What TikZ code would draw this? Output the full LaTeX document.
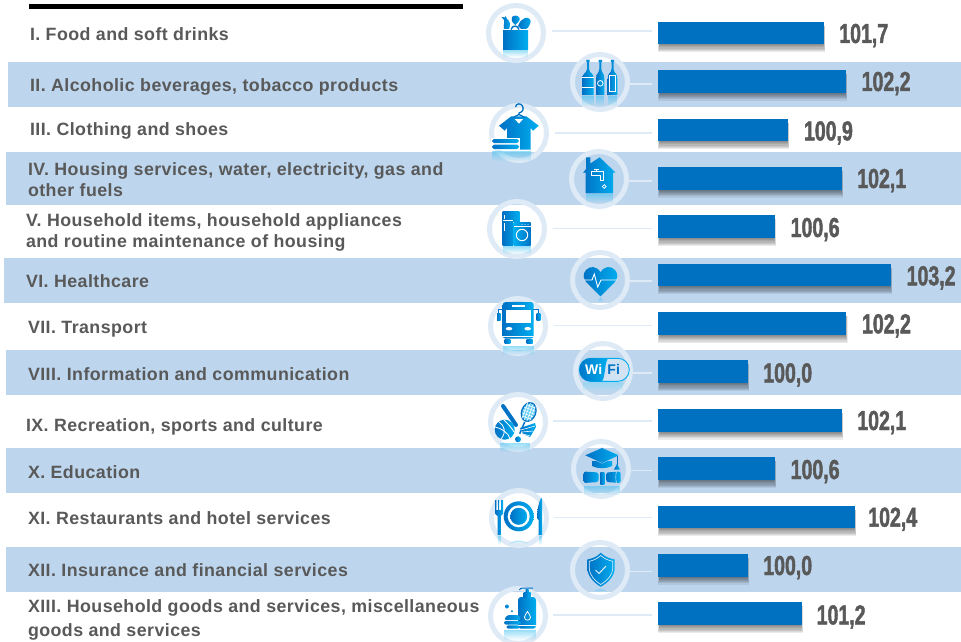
\documentclass[tikz,border=0pt]{standalone}
\usepackage{fontspec}
\usetikzlibrary{fadings,calc}
\setmainfont{Liberation Sans}
\newfontfamily\lblfont[UprightFont=* Bold,LetterSpace=2.5]{Liberation Sans}
\newfontfamily\valfont[UprightFont=* Bold,FakeStretch=0.71,FakeBold=1.5]{Liberation Sans}
\newfontfamily\icofont[UprightFont=* Bold]{Liberation Sans}
\definecolor{bandc}{HTML}{BDD6EE}
\definecolor{ringc}{HTML}{DEEAF6}
\definecolor{barc}{HTML}{0070C0}
\definecolor{txtc}{HTML}{595959}
\definecolor{iconA}{HTML}{0071C5}
\definecolor{iconB}{HTML}{00AEEF}
\tikzset{
  band/.style={fill=bandc,draw=none},
  ringnode/.style={circle,draw=ringc,line width=5pt,minimum size=55pt,inner sep=0pt,fill=none},
  leader/.style={draw=ringc,line width=1.1pt},
  barnode/.style={rectangle,fill=barc,draw=none,inner sep=0pt,outer sep=0pt,anchor=north west},
  lbl/.style={anchor=base west,inner sep=0pt,outer sep=0pt,text=txtc,align=left,font=\lblfont\fontsize{17.8}{21.7}\selectfont},
  val/.style={anchor=base west,inner sep=0pt,outer sep=0pt,text=txtc,font=\valfont\fontsize{27.5}{30}\selectfont},
  ic/.style={left color=iconA,right color=iconB,draw=none},
  icr/.style={left color=iconB,right color=iconA,draw=none},
  refl/.style={fill=iconB!80!white,opacity=.5,draw=none,path fading=south},
  cut/.style={draw=white,line width=.8pt,fill=none},
  icotext/.style={inner sep=0pt,outer sep=0pt,font=\icofont\fontsize{14}{14}\selectfont},
}
% id, top, bottom, right, value x, value baseline, value
\newcommand\rowbar[7]{%
  \foreach \k in {1,...,7}{\fill[black,opacity=.08] (660-\k*.3,#2+4) rectangle (#4-1+\k*.35,#3+\k*1.15);}
  \node[barnode,minimum width=#4-658,minimum height=#3-#2] (bar#1) at (658,#2) {};
  \node[val] (val#1) at (#5,#6) {#7};
}
% id, icon x, icon y
\newcommand\ringat[3]{\node[ringnode] (ic#1) at (#2,#3) {};}
% id, offset of the line above the icon centre, gap next to the ring
\newcommand\leadline[3]{\draw[leader,shorten <=#3pt,shorten >=6pt] ([yshift=#2pt]ic#1.east) -- ([yshift=#2pt]ic#1.east -| bar#1.west);}
\newcommand\bottle[2]{%
  \path[ic] (#1-1.7,-22) -- (#1+1.7,-22) -- (#1+1.7,-20) -- (#1+1,-20) -- (#1+1,-13) .. controls (#1+1.5,-8) and (#1+#2,-10) .. (#1+#2,-3) -- (#1+#2,13) -- (#1-#2,13) -- (#1-#2,-3) .. controls (#1-#2,-10) and (#1-1.5,-8) .. (#1-1,-13) -- (#1-1,-20) -- (#1-1.7,-20) -- cycle;
  \fill[refl] (#1-#2,14) rectangle (#1+#2,24);
}
\begin{document}
\begin{tikzpicture}[x=1pt,y=-1pt]
\useasboundingbox (0,0) rectangle (961,642);
\fill[white] (0,0) rectangle (961,642);
% bands
\fill[band] (8,62) rectangle (961,107);
\fill[band] (6,152) rectangle (961,205);
\fill[band] (4,258) rectangle (961,303);
\fill[band] (6,350) rectangle (961,395);
\fill[band] (6,448) rectangle (961,493);
\fill[band] (6,547) rectangle (961,592);
% top rule
\fill[black] (29,4.3) rectangle (463,9);
% labels
\node[lbl] (lab1) at (30,40.7) {I. Food and soft drinks};
\node[lbl] (lab2) at (30,91.7) {II. Alcoholic beverages, tobacco products};
\node[lbl] (lab3) at (30,135.7) {III. Clothing and shoes};
\node[lbl] (lab4) at (28,196.7) {IV. Housing services, water, electricity, gas and\\other fuels};
\node[lbl] (lab5) at (26,247.7) {V. Household items, household appliances\\and routine maintenance of housing};
\node[lbl] (lab6) at (26,287.3) {VI. Healthcare};
\node[lbl] (lab7) at (28,333.3) {VII. Transport};
\node[lbl] (lab8) at (28,380) {VIII. Information and communication};
\node[lbl] (lab9) at (26,431) {IX. Recreation, sports and culture};
\node[lbl] (lab10) at (28,478.3) {X. Education};
\node[lbl] (lab11) at (28,524) {XI. Restaurants and hotel services};
\node[lbl] (lab12) at (28,576.7) {XII. Insurance and financial services};
\node[lbl] (lab13) at (28,636) {XIII. Household goods and services, miscellaneous\\[1.6pt]goods and services};
% bars and values
\rowbar{1}{22}{44}{824}{839.3}{43}{101,7}
\rowbar{2}{70}{92.5}{846}{861.7}{91}{102,2}
\rowbar{3}{118.5}{141}{788}{804}{140.4}{100,9}
\rowbar{4}{166.7}{189.5}{842}{857.3}{188}{102,1}
\rowbar{5}{215.3}{238}{774.7}{790.7}{237}{100,6}
\rowbar{6}{263.7}{286}{891}{906.7}{285.3}{103,2}
\rowbar{7}{312}{334.7}{846.3}{862}{333.3}{102,2}
\rowbar{8}{360}{383}{748}{763.3}{382.4}{100,0}
\rowbar{9}{408.7}{431.5}{842}{857.3}{430}{102,1}
\rowbar{10}{457.3}{480}{775}{790.7}{479}{100,6}
\rowbar{11}{505.7}{528}{855}{868.3}{526.7}{102,4}
\rowbar{12}{554}{576.5}{748}{763.3}{575}{100,0}
\rowbar{13}{602.3}{625}{801.7}{816.7}{624.4}{101,2}
% rings
\ringat{1}{516}{33}\ringat{2}{600}{82}\ringat{3}{519}{133}\ringat{4}{599}{179}
\ringat{5}{517}{229}\ringat{6}{600}{280}\ringat{7}{518}{326}\ringat{8}{603}{371}
\ringat{9}{518}{422}\ringat{10}{601}{469}\ringat{11}{519}{518}\ringat{12}{600}{570}\ringat{13}{518}{616}
% leaders
\leadline{1}{2}{6}\leadline{2}{-2}{0}\leadline{3}{0}{6}\leadline{4}{-2}{0}
\leadline{5}{.5}{6}\leadline{6}{-1}{0}\leadline{7}{.5}{6}\leadline{8}{-2}{0}
\leadline{9}{1}{5}\leadline{10}{-1.7}{0}\leadline{11}{.3}{5}\leadline{12}{-1.5}{0}\leadline{13}{1}{5}
% icon 1: food basket
\begin{scope}[shift={(ic1.center)}]
\path[ic] (-13,-2.3) rectangle (12,16.7);
\fill[refl] (-13,17) rectangle (12,24);
\path[ic] (-14.5,-16) -- (-11,-15.5) -- (-10.5,-17) -- (-9,-14) .. controls (-6,-12) and (-5,-8) .. (-7,-4) -- (-12,-4) .. controls (-13,-8) and (-11,-11) .. (-12,-13) -- cycle;
\path[ic] (-4,-16) .. controls (-2,-18) and (2,-18) .. (3.5,-15) .. controls (4.5,-12) and (1,-10) .. (-0.5,-8) .. controls (-3,-9) and (-5,-12) .. (-4,-16) -- cycle;
\path[ic] (2,-7) .. controls (4,-12) and (6,-14) .. (9,-15) .. controls (13,-16) and (16,-13) .. (14,-9) .. controls (13,-6) and (11,-4) .. (10,-4) -- (5,-4) -- cycle;
\draw[iconA,line width=1.4pt] (-5,-3.5) .. controls (-4,-8) and (2,-8) .. (3,-3.5);
\end{scope}
% icon 2: bottles
\begin{scope}[shift={(ic2.center)}]
\bottle{-12}{5.6}\bottle{0.3}{4}\bottle{12.5}{4.8}
\draw[cut] (-18,-4.5) -- (-6,-4.5) (-18,5.5) -- (-6,5.5);
\draw[cut] (0.3,1.3) circle (2.8);
\draw[cut] (9.5,-7) rectangle (15.5,9.5);
\end{scope}
% icon 3: shirt
\begin{scope}[shift={(ic3.center)}]
\path[ic] (-7.7,-16.7) -- (7.3,-16.7) -- (19.7,-7.3) -- (14,-2.3) -- (11.7,-5) -- (11.7,16.7) -- (-12,16.7) -- (-12,-5) -- (-14.3,-2.3) -- (-20,-7.3) -- cycle;
\fill[white] (-4.3,-14) -- (4,-14) -- (0,-9.3) -- cycle;
\draw[iconA,line width=1.3pt] (-6,-15.5) -- (0,-18.5) -- (6,-15.5) (0,-18.5) -- (0,-20) .. controls (4,-21) and (5,-24) .. (3.5,-27) .. controls (2,-30) and (-3,-30) .. (-3.5,-26);
\fill[white] (-28,4.5) rectangle (1,17);
\path[ic,rounded corners=1.8pt] (-27,6) rectangle (0,10);
\path[ic,rounded corners=1.8pt] (-27,11.7) rectangle (0,16);
\fill[refl] (-27,18) rectangle (12,28);
\end{scope}
% icon 4: house
\begin{scope}[shift={(ic4.center)}]
\path[ic] (-13,-21.7) -- (-8.7,-21.7) -- (-8.7,-15.5) -- (0.7,-21.7) -- (16.7,-6.3) -- (14,-6.3) -- (14,14.3) -- (-13.3,14.3) -- (-13.3,-6.3) -- (-16,-6.3) -- (-13,-10) -- cycle;
\draw[white,line width=.7pt,line join=round] (-8,-7.5) -- (4.5,-7.5) -- (4.5,1) -- (1,1) -- (1,-3.5) -- (-8,-3.5) -- cycle (-2.5,-7.5) -- (-2.5,-10) (-5,-10) -- (0,-10);
\draw[white,line width=.7pt] (5.3,7.5) circle (1.9);
\fill[refl] (-13.3,15) rectangle (14,24);
\end{scope}
% icon 5: fridge and washer
\begin{scope}[shift={(ic5.center)}]
\path[ic] (-14.3,-17.3) rectangle (2.3,16);
\draw[cut] (-14.3,-8.5) -- (-4,-8.5) (-12.3,-14) -- (-12.3,-10.5) (-12.3,-6) -- (-12.3,2);
\draw[white,line width=.9pt,fill=iconA] (-3.8,-6.7) rectangle (13.9,16.2);
\path[icr] (-3.3,-6.3) rectangle (13.7,16);
\draw[cut] (-3.3,-3) -- (13.7,-3);
\draw[white,line width=1pt] (5,6) circle (5.7);
\fill[white] (5,-4.7) circle (.5) (8,-4.7) circle (.5) (11,-4.7) circle (.5);
\fill[refl] (-14.3,17) rectangle (13.7,25);
\end{scope}
% icon 6: heart
\begin{scope}[shift={(ic6.center)}]
\path[ic] (0.5,-7.7) .. controls (-3,-14) and (-10,-14.5) .. (-14,-10) .. controls (-17.5,-6) and (-17,-1) .. (-13,3) -- (0.5,16.3) -- (14,3) .. controls (18,-1) and (18.5,-6) .. (15,-10) .. controls (11,-14.5) and (4,-14) .. (0.5,-7.7) -- cycle;
\draw[white,line width=.9pt,line join=miter] (-16.3,0) -- (-8,0) -- (-5.7,-6) -- (-2.3,7) -- (1,0) -- (17.3,0);
\fill[refl] (-3,22) -- (0.5,17.5) -- (4,22) -- cycle;
\end{scope}
% icon 7: bus
\begin{scope}[shift={(ic7.center)}]
\path[ic,rounded corners=3pt] (-15.3,-24) rectangle (15.7,12.7);
\fill[white] (-12.3,-15.7) rectangle (13.3,-3);
\fill[white] (-6,-21.3) rectangle (7.3,-18.7);
\fill[white] (-9,2.7) ellipse (3.3 and 1.7) (9.7,2.7) ellipse (3.3 and 1.7);
\draw[cut] (-15.3,10) -- (15.7,10);
\path[ic] (-21,-13) rectangle (-17.3,-5.7);
\path[ic] (18.5,-13) rectangle (22.3,-5.7);
\draw[iconA,line width=.8pt] (-19.2,-13) -- (-19.2,-16.5) -- (-15,-16.5) (20.4,-13) -- (20.4,-16.5) -- (15,-16.5);
\path[ic] (-13.3,13.7) rectangle (-7.7,17.7);
\path[ic] (8.5,13.7) rectangle (14.5,17.7);
\fill[refl] (-15.3,20) rectangle (15.7,29);
\end{scope}
% icon 8: wifi
\begin{scope}[shift={(ic8.center)}]
\fill[iconB!50!white,opacity=.6,path fading=south] (-20,10.5) rectangle (20,20);
\draw[iconB,fill=bandc!70!white,line width=.9pt,rounded corners=11.4pt] (-23.7,-12.7) rectangle (26.3,10.3);
\path[ic] (-12,-12.9) -- (5,-12.9) .. controls (1,-6) and (3,4) .. (-1,10.5) -- (-12,10.5) .. controls (-27.5,10.5) and (-27.5,-12.9) .. (-12,-12.9) -- cycle;
\node[icotext,text=white] (wi8) at (-9.3,-1.3) {Wi};
\node[icotext,text=iconA] (fi8) at (10.7,-1.3) {Fi};
\end{scope}
% icon 9: sports
\begin{scope}[shift={(ic9.center)}]
\fill[refl] (-18,21) rectangle (12,30);
\draw[iconA,line width=4pt,line cap=round] (-15,-16) -- (-2,3);
\draw[iconA,line width=1.5pt] (6.7,0) -- (1.7,11.7);
\begin{scope}[shift={(10.7,-10)},rotate=-20]
\draw[iconA,fill=iconB!60!white,line width=1.4pt] (0,0) ellipse (7 and 9.5);
\draw[white,line width=.5pt] (-5,-6) -- (5,-6) (-6,-3) -- (6,-3) (-6.5,0) -- (6.5,0) (-6,3) -- (6,3) (-5,6) -- (5,6) (-4,-8) -- (-4,8) (-1.5,-9) -- (-1.5,9) (1.5,-9) -- (1.5,9) (4,-8) -- (4,8);
\end{scope}
\path[ic] (-13.3,7.7) circle (10);
\draw[white,line width=.8pt] (-23,5) .. controls (-17,6) and (-9,11) .. (-8,17) (-19,0) .. controls (-14,3) and (-11,10) .. (-17,17) (-14,-2) .. controls (-10,2) and (-6,6) .. (-4,10);
\path[ic] (2,6) -- (17,1) -- (18,5) -- (15,10) -- (12,15) -- (5,12) -- cycle;
\draw[white,line width=.6pt] (3,8) -- (17,4) (4,10) -- (15,9) (5,12) -- (12,14);
\path[ic] (0,17.3) circle (3);
\end{scope}
% icon 10: mortarboard and diploma
\begin{scope}[shift={(ic10.center)}]
\path[ic] (-9,-8) -- (11,-8) -- (11,-3) .. controls (5,0) and (-3,0) .. (-9,-3) -- cycle;
\draw[bandc,line width=.9pt,fill=iconA] (1,-21) -- (-15.7,-13.7) -- (1,-6) -- (17.7,-13.7) -- cycle;
\path[ic] (1,-21) -- (-15.7,-13.7) -- (1,-6) -- (17.7,-13.7) -- cycle;
\draw[iconA,line width=.9pt] (16,-13) -- (16,-4);
\path[ic] (16,-5) -- (19,0.5) -- (13,0.5) -- cycle;
\path[ic,rounded corners=2pt] (-17.3,2.5) -- (-2.3,3.5) -- (-2.3,13) -- (-17.3,14) -- cycle;
\path[ic] (-.7,3.5) rectangle (3.3,15.5);
\path[ic,rounded corners=1.5pt] (5.3,3.5) -- (19.5,2.5) -- (19.5,14) -- (5.3,13) -- cycle;
\draw[bandc,line width=.6pt] (15.5,2.5) .. controls (14.5,6) and (14.5,10) .. (15.5,14);
\fill[refl] (-17,16.5) rectangle (19,26);
\end{scope}
% icon 11: plate and cutlery
\begin{scope}[shift={(ic11.center)}]
\path[ic] (-0.3,-1.7) circle (15);
\fill[white] (-0.3,-1.7) circle (11);
\path[ic] (-0.3,-1.7) circle (8.5);
\path[ic] (-23.7,-18) -- (-22.7,-18) -- (-22.7,-8) -- (-20.8,-8) -- (-20.8,-18) -- (-19.8,-18) -- (-19.8,-8) -- (-18,-8) -- (-18,-18) -- (-16,-18) -- (-16,-4) -- (-18.2,-2) -- (-18.2,17) -- (-21.5,17) -- (-21.5,-2) -- (-23.7,-4) -- cycle;
\path[ic] (22,-20) .. controls (19,-14) and (18,-6) .. (18,0) -- (19.5,2) -- (19.5,17) -- (23,17) -- (23,-19) -- cycle;
\fill[refl] (-21.5,18) rectangle (-18.2,27);
\fill[refl] (19.5,18) rectangle (23,27);
\fill[refl] (-10,26) .. controls (-6,21.5) and (5,21.5) .. (9.5,26) .. controls (5,24) and (-5,24) .. (-10,26) -- cycle;
\end{scope}
% icon 12: shield
\begin{scope}[shift={(ic12.center)}]
\path[ic] (0.7,-17.3) .. controls (5,-13) and (10,-11.5) .. (14.7,-10.5) -- (14.7,-2) .. controls (14.7,6) and (8,13) .. (0.7,16.7) .. controls (-6,13) and (-12.7,6) .. (-12.7,-2) -- (-12.7,-10.5) .. controls (-8,-11.5) and (-3,-13) .. (0.7,-17.3) -- cycle;
\draw[bandc!60!white,line width=.7pt] (0.7,-14.5) .. controls (4.5,-11) and (9,-9.5) .. (12.8,-8.7) -- (12.8,-2) .. controls (12.8,5) and (7,11) .. (0.7,14.5) .. controls (-5,11) and (-10.8,5) .. (-10.8,-2) -- (-10.8,-8.7) .. controls (-7,-9.5) and (-3,-11) .. (0.7,-14.5) -- cycle;
\draw[bandc!40!white,line width=1pt] (-4.5,0) -- (-1,3.5) -- (6,-4);
\fill[refl] (-7,22) .. controls (-4,18) and (5,18) .. (8,22) -- cycle;
\end{scope}
% icon 13: soap
\begin{scope}[shift={(ic13.center)}]
\path[ic,rounded corners=3pt] (0,-19) -- (18,-19) -- (18,12.7) -- (0,12.7) -- cycle;
\path[ic] (5.5,-24) rectangle (12.5,-19);
\path[ic] (7.5,-27) rectangle (10.5,-24);
\draw[iconA,line width=1pt] (1.5,-26) .. controls (2,-27.7) and (3,-27.8) .. (4,-27.8) -- (15,-27.8);
\draw[white,line width=.8pt] (9.5,-4.5) .. controls (7.5,-1.5) and (6.5,0) .. (6.5,1.5) .. controls (6.5,5) and (12.5,5) .. (12.5,1.5) .. controls (12.5,0) and (11.5,-1.5) .. (9.5,-4.5) -- cycle;
\draw[white,line width=.8pt] (0,9) -- (18,9);
\path[ic,rounded corners=2.5pt] (-11,-1) -- (1,-1) -- (3,4) -- (-14,4) -- cycle;
\path[ic,rounded corners=2pt] (-14,5) rectangle (3,8.5);
\path[ic,rounded corners=2pt] (-11.5,9.3) rectangle (1.5,12.7);
\path[ic] (-11,-9.5) circle (2);
\path[ic] (-6,-4.7) circle (1.1);
\fill[refl] (-14,14) rectangle (18,24);
\end{scope}
\end{tikzpicture}
\end{document}
